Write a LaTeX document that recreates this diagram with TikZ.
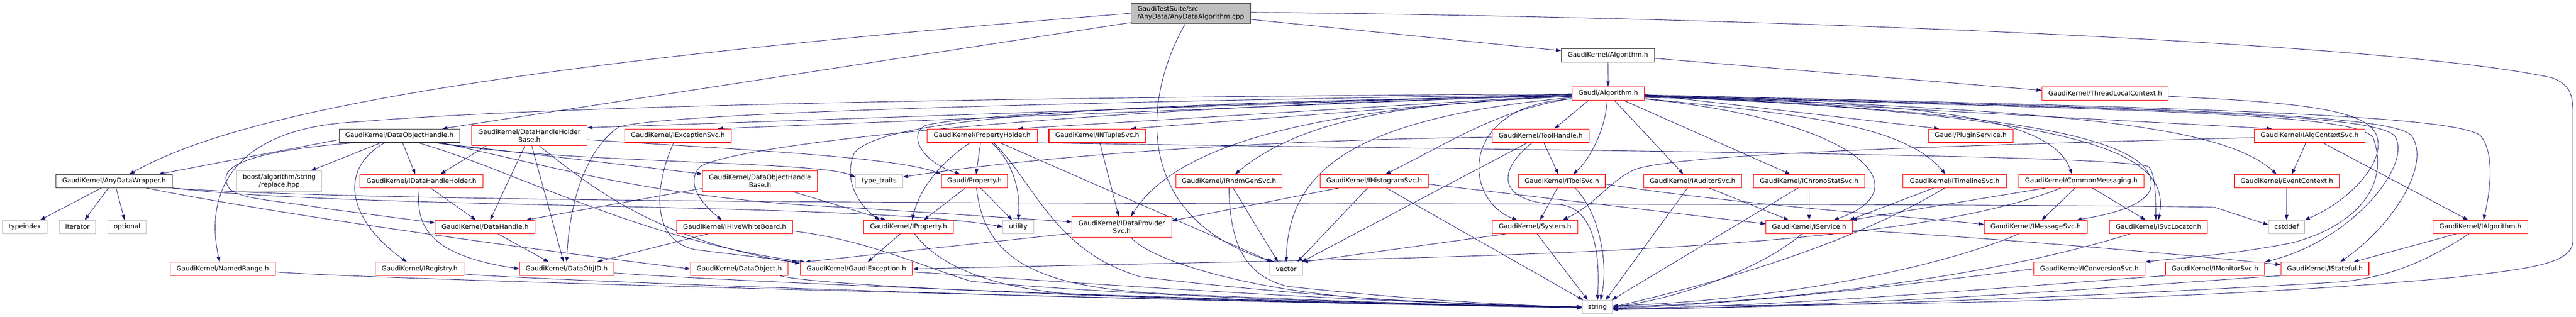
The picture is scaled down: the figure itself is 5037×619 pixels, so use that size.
\documentclass[tikz,border=0pt]{standalone}
\usepackage{fontspec}
\setmainfont{DejaVu Sans}
\usetikzlibrary{arrows.meta}
\definecolor{edgec}{HTML}{191970}
\definecolor{nred}{HTML}{FF0000}
\definecolor{ngray}{HTML}{BFBFBF}
\definecolor{nblack}{HTML}{333333}
\definecolor{rootfill}{HTML}{BFBFBF}
\pgfdeclarelayer{bg}
\pgfsetlayers{bg,main}
\begin{document}
\begin{tikzpicture}[x=1pt,y=-1pt,
  nb/.style={rectangle, line width=1.1pt, inner sep=0pt, minimum height=26pt, fill=white, font=\fontsize{12.8}{15}\selectfont, text=black},
  rn/.style={nb, draw=nred},
  gn/.style={nb, draw=ngray},
  bn/.style={nb, draw=nblack},
  two/.style={minimum height=40pt, align=center},
  e/.style={draw=edgec, line width=0.9pt, -{Triangle[length=10pt,width=7pt]}},
]
\useasboundingbox (0,0) rectangle (5037,619);

% row 0-2
\node[bn, fill=rootfill, minimum width=233pt, minimum height=40pt, align=left] (root) at (2328.5,26) {GaudiTestSuite/src\\/AnyData/AnyDataAlgorithm.cpp};
\node[bn, minimum width=182pt] (algh) at (3144,108) {GaudiKernel/Algorithm.h};
\node[rn, minimum width=141pt] (galg) at (3144.5,182.5) {Gaudi/Algorithm.h};
\node[rn, minimum width=247pt] (tlc) at (4116.5,182.5) {GaudiKernel/ThreadLocalContext.h};
% row 3
\node[bn, minimum width=236pt] (doh) at (781,265) {GaudiKernel/DataObjectHandle.h};
\node[rn, two, minimum width=226pt] (dhhb) at (1035,265) {GaudiKernel/DataHandleHolder\\Base.h};
\node[rn, minimum width=209pt] (iexc) at (1325.5,265) {GaudiKernel/IExceptionSvc.h};
\node[rn, minimum width=215pt] (ph) at (1920.5,265) {GaudiKernel/PropertyHolder.h};
\node[rn, minimum width=189pt] (intup) at (2145.5,265) {GaudiKernel/INTupleSvc.h};
\node[rn, minimum width=189pt] (toolh) at (3012.5,265) {GaudiKernel/ToolHandle.h};
\node[rn, minimum width=165pt] (plugin) at (3853.5,265) {Gaudi/PluginService.h};
\node[rn, minimum width=216pt] (ialgctx) at (4516,265) {GaudiKernel/IAlgContextSvc.h};
% row 4
\node[bn, minimum width=228pt] (adw) at (223,354) {GaudiKernel/AnyDataWrapper.h};
\node[gn, two, minimum width=166pt] (boost) at (546,354) {boost/algorithm/string\\/replace.hpp};
\node[rn, minimum width=240pt] (idhh) at (824,354) {GaudiKernel/IDataHandleHolder.h};
\node[rn, two, minimum width=224pt] (dohb) at (1486,354) {GaudiKernel/DataObjectHandle\\Base.h};
\node[gn, minimum width=92pt] (tt) at (1719,354) {type\_traits};
\node[rn, minimum width=129pt] (prop) at (1905.5,354) {Gaudi/Property.h};
\node[rn, minimum width=208pt] (irndm) at (2403,354) {GaudiKernel/IRndmGenSvc.h};
\node[rn, minimum width=212pt] (ihist) at (2687,354) {GaudiKernel/IHistogramSvc.h};
\node[rn, minimum width=170pt] (itool) at (3054,354) {GaudiKernel/IToolSvc.h};
\node[rn, minimum width=191pt] (iaud) at (3309.5,354) {GaudiKernel/IAuditorSvc.h};
\node[rn, minimum width=217pt] (ichrono) at (3537.5,354) {GaudiKernel/IChronoStatSvc.h};
\node[rn, minimum width=202pt] (itimeline) at (3822,354) {GaudiKernel/ITimelineSvc.h};
\node[rn, minimum width=245pt] (cmsg) at (4069.5,354) {GaudiKernel/CommonMessaging.h};
\node[rn, minimum width=205pt] (evctx) at (4471.5,354) {GaudiKernel/EventContext.h};
% row 5
\node[gn, minimum width=87pt] (typeindex) at (48.5,443.5) {typeindex};
\node[gn, minimum width=71pt] (iterator) at (151.5,443.5) {iterator};
\node[gn, minimum width=75pt] (optional) at (248.5,443.5) {optional};
\node[rn, minimum width=195pt] (dh) at (948.5,443.5) {GaudiKernel/DataHandle.h};
\node[rn, minimum width=227pt] (ihive) at (1436.5,443.5) {GaudiKernel/IHiveWhiteBoard.h};
\node[rn, minimum width=175pt] (iprop) at (1776.5,443.5) {GaudiKernel/IProperty.h};
\node[gn, minimum width=60pt] (utility) at (1991,443.5) {utility};
\node[rn, two, minimum width=195pt] (idp) at (2193.5,443.5) {GaudiKernel/IDataProvider\\Svc.h};
\node[rn, minimum width=167pt] (system) at (3001.5,443.5) {GaudiKernel/System.h};
\node[rn, minimum width=169pt] (iservice) at (3537.5,443.5) {GaudiKernel/IService.h};
\node[rn, minimum width=201pt] (imsg) at (3980.5,443.5) {GaudiKernel/IMessageSvc.h};
\node[rn, minimum width=191pt] (isvcloc) at (4220.5,443.5) {GaudiKernel/ISvcLocator.h};
\node[gn, minimum width=70pt] (cstddef) at (4471,443.5) {cstddef};
\node[rn, minimum width=186pt] (ialg) at (4850,443.5) {GaudiKernel/IAlgorithm.h};
% row 6
\node[rn, minimum width=205pt] (named) at (435.5,525.5) {GaudiKernel/NamedRange.h};
\node[rn, minimum width=173pt] (ireg) at (820.5,525.5) {GaudiKernel/IRegistry.h};
\node[rn, minimum width=184pt] (dataobjid) at (1108,525.5) {GaudiKernel/DataObjID.h};
\node[rn, minimum width=191pt] (dataobj) at (1445.5,525.5) {GaudiKernel/DataObject.h};
\node[rn, minimum width=219pt] (gexc) at (1674.5,525.5) {GaudiKernel/GaudiException.h};
\node[gn, minimum width=64pt] (vector) at (2515,525.5) {vector};
\node[rn, minimum width=217pt] (iconv) at (4085.5,525.5) {GaudiKernel/IConversionSvc.h};
\node[rn, minimum width=194pt] (imon) at (4331,525.5) {GaudiKernel/IMonitorSvc.h};
\node[rn, minimum width=172pt] (istate) at (4546,525.5) {GaudiKernel/IStateful.h};
% row 7
\node[gn, minimum width=59pt] (string) at (3123.5,600) {string};

\begin{pgfonlayer}{bg}
\fill[white] (0,0) rectangle (5037,619);
% root
\draw[e] (root.west) .. controls (900,130) and (450,230) .. ([xshift=30]adw.north);
\draw[e] ([yshift=-18]root.west) -- ([xshift=84]doh.north);
\draw[e] ([yshift=-12]root.east) -- ([yshift=9]algh.west);
\draw[e] ([yshift=2]root.east) .. controls (3600,36) and (4700,88) .. (4990,152) .. controls (5025,165) and (5031,185) .. (5031,220) -- (5031,470) .. controls (5031,515) and (4950,525) .. (4800,542) .. controls (4300,590) and (3600,598) .. ([yshift=2]string.east);
\draw[e] ([xshift=-11]root.south) .. controls (2230,200) and (2220,430) .. ([xshift=-24]vector.north);
% Algorithm.h
\draw[e] (algh) -- (galg);
\draw[e] ([yshift=-6]algh.east) -- ([yshift=6]tlc.west);
\draw[e] ([yshift=-6]tlc.east) .. controls (4500,200) and (4620,215) .. (4645,260) .. controls (4670,310) and (4600,390) .. (cstddef.north east);
% Gaudi/Algorithm.h, left side
\draw[e] ([yshift=-1]galg.west) -- ([yshift=-5]dhhb.north east);
\draw[e] ([yshift=-2]galg.west) -- ([xshift=78]iexc.north);
\draw[e] ([yshift=-3]galg.west) -- ([xshift=70]ph.north);
\draw[e] ([yshift=-3]galg.west) -- ([xshift=66]intup.north);
\draw[e] ([yshift=-1]galg.west) .. controls (2000,190) and (1100,205) .. (700,238) .. controls (450,250) and (400,380) .. ([xshift=-6]named.north);
\draw[e] ([yshift=-4]galg.west) .. controls (2400,200) and (1900,222) .. (1810,245) .. controls (1775,262) and (1800,315) .. ([xshift=-28]prop.north);
\draw[e] ([yshift=-5]galg.west) .. controls (2200,200) and (1720,228) .. (1670,300) .. controls (1645,360) and (1690,410) .. ([xshift=-56]iprop.north);
\draw[e] ([yshift=-5]galg.west) .. controls (2200,205) and (1460,275) .. (1370,325) .. controls (1335,360) and (1380,405) .. ([xshift=-25]ihive.north);
\draw[e] ([yshift=-2]galg.west) .. controls (2000,200) and (1300,222) .. (1210,248) .. controls (1135,300) and (1112,420) .. (dataobjid.north);
\draw[e] ([yshift=-6]galg.west) .. controls (2800,200) and (2560,220) .. ([xshift=12]irndm.north);
\draw[e] ([yshift=-6]galg.west) .. controls (2700,205) and (2320,250) .. ([xshift=18]idp.north);
\draw[e] ([yshift=-10]galg.west) .. controls (2930,215) and (2850,270) .. ([xshift=22]ihist.north);
\draw[e] ([yshift=-8]galg.west) .. controls (2650,230) and (2520,330) .. (vector.north);
\draw[e] ([yshift=-11]galg.west) .. controls (2850,205) and (2860,390) .. ([xshift=-35]system.north);
% Gaudi/Algorithm.h, bottom
\draw[e] ([xshift=-38]galg.south) -- ([xshift=27]toolh.north);
\draw[e] ([xshift=-2]galg.south) .. controls (3140,250) and (3110,310) .. ([xshift=22]itool.north);
\draw[e] ([xshift=12]galg.south) -- ([xshift=-18]iaud.north);
\draw[e] ([xshift=30]galg.south) -- ([xshift=-37]ichrono.north);
% Gaudi/Algorithm.h, right side
\draw[e] ([yshift=-11]galg.east) .. controls (3640,235) and (3760,370) .. ([xshift=48]iservice.north);
\draw[e] ([yshift=-2]galg.east) -- ([xshift=-62]plugin.north);
\draw[e] ([yshift=-10]galg.east) .. controls (3500,222) and (3720,240) .. ([xshift=-18]itimeline.north);
\draw[e] ([yshift=-8]galg.east) .. controls (3750,200) and (4010,225) .. ([xshift=-18]cmsg.north);
\draw[e] ([yshift=-6]galg.east) .. controls (3900,215) and (4230,265) .. (4205,370) .. controls (4190,405) and (4120,420) .. ([xshift=80]imsg.north);
\draw[e] ([yshift=-5]galg.east) .. controls (4100,225) and (4245,300) .. (isvcloc.north);
\draw[e] ([yshift=-3]galg.east) -- ([xshift=-74]ialgctx.north);
\draw[e] ([yshift=-4]galg.east) .. controls (4000,215) and (4340,240) .. ([xshift=-20]evctx.north);
\draw[e] ([yshift=-3]galg.east) .. controls (4300,210) and (4800,225) .. (4850,265) .. controls (4880,300) and (4868,380) .. ([xshift=6]ialg.north);
\draw[e] ([yshift=-4]galg.east) .. controls (4300,212) and (4680,225) .. (4715,265) .. controls (4755,320) and (4680,440) .. ([xshift=30]istate.north);
\draw[e] ([yshift=-5]galg.east) .. controls (4300,214) and (4640,225) .. (4682,265) .. controls (4720,320) and (4600,470) .. (imon.north east);
\draw[e] ([yshift=-6]galg.east) .. controls (4300,216) and (4600,225) .. (4640,268) .. controls (4680,380) and (4580,450) .. (4480,475) .. controls (4350,500) and (4250,505) .. (iconv.north east);
% DataObjectHandle.h
\draw[e] ([yshift=-8]doh.west) -- ([xshift=87]adw.north);
\draw[e] ([xshift=-35]doh.south) -- ([xshift=62]boost.north);
\draw[e] ([xshift=6]doh.south) -- ([xshift=-12]idhh.north);
\draw[e] ([xshift=-28]doh.south) .. controls (660,330) and (680,430) .. ([xshift=-25]ireg.north);
\draw[e] ([xshift=-80]doh.south) .. controls (520,292) and (430,318) .. (443,355) .. controls (445,390) and (520,388) .. (640,408) -- ([yshift=8]dh.west);
\draw[e] ([xshift=66]doh.south) -- ([yshift=14]dohb.west);
\draw[e] ([xshift=68]doh.south) .. controls (1100,320) and (1600,314) .. ([yshift=8]tt.west);
\draw[e] ([xshift=80]doh.south) .. controls (1100,330) and (1300,390) .. (1650,405) -- ([yshift=10]idp.west);
\draw[e] ([xshift=35]doh.south) .. controls (1000,330) and (1250,470) .. ([xshift=10]gexc.north west);
% DataHandleHolderBase.h
\draw[e] ([xshift=-85]dhhb.south) -- ([xshift=37]idhh.north);
\draw[e] ([xshift=-9]dhhb.south) -- ([xshift=10]dh.north);
\draw[e] ([xshift=5]dhhb.south) -- ([xshift=-6]dataobjid.north);
\draw[e] ([xshift=20]dhhb.south) .. controls (1150,360) and (1280,470) .. ([yshift=-3]gexc.north west);
\draw[e] ([yshift=-8]dhhb.east) .. controls (1400,290) and (1750,305) .. (prop.north west);
% IExceptionSvc.h
\draw[e] ([xshift=-8]iexc.south) .. controls (1280,360) and (1270,470) .. (1360,488) -- ([xshift=-6]gexc.north west);
% AnyDataWrapper.h
\draw[e] ([xshift=-25]adw.south) -- ([xshift=30]typeindex.north);
\draw[e] ([xshift=-11]adw.south) -- ([xshift=14]iterator.north);
\draw[e] ([xshift=4]adw.south) -- ([xshift=-5]optional.north);
\draw[e] ([xshift=63]adw.south) .. controls (500,410) and (900,470) .. (dataobj.west);
\draw[e] (adw.south east) .. controls (700,410) and (1700,395) .. (utility.west);
\draw[e] (adw.south east) .. controls (900,410) and (3500,392) .. (4330,405) -- ([yshift=4]cstddef.west);
% IDataHandleHolder.h, DataHandle.h
\draw[e] ([xshift=18]idhh.south) -- ([xshift=-18]dh.north);
\draw[e] ([xshift=-4]idhh.south) .. controls (810,450) and (850,500) .. (dataobjid.west);
\draw[e] ([xshift=25]dh.south) -- ([xshift=-35]dataobjid.north);
% DataObjectHandleBase.h
\draw[e] ([yshift=-14]dohb.west) -- ([xshift=80]dh.north);
\draw[e] ([xshift=64]dohb.south) -- ([xshift=-44]iprop.north);
% IHiveWhiteBoard.h, IProperty.h
\draw[e] ([xshift=-52]ihive.south) -- ([xshift=59]dataobjid.north);
\draw[e] ([yshift=-8]ihive.east) .. controls (1700,470) and (1800,520) .. (1900,550) .. controls (2300,585) and (2800,595) .. (string.west);
\draw[e] ([xshift=-16]iprop.south) -- ([xshift=22]gexc.north);
\draw[e] ([xshift=12]iprop.south) .. controls (1820,500) and (1900,560) .. (2100,575) .. controls (2500,590) and (2900,598) .. (string.west);
% row 6 to string
\draw[e] ([yshift=-6]named.east) .. controls (700,545) and (2000,580) .. ([yshift=-2]string.west);
\draw[e] ([yshift=-10]ireg.east) .. controls (1000,545) and (2000,585) .. ([yshift=-1]string.west);
\draw[e] ([yshift=-8]dataobjid.east) .. controls (1400,548) and (2200,585) .. (string.west);
\draw[e] ([xshift=80]dataobj.south) .. controls (1600,560) and (2300,590) .. (string.west);
\draw[e] ([yshift=-6]gexc.east) .. controls (2000,545) and (2600,590) .. (string.west);
% PropertyHolder.h
\draw[e] ([xshift=-3]ph.south) -- ([xshift=3]prop.north);
\draw[e] ([xshift=-23]ph.south) .. controls (1850,310) and (1800,360) .. ([xshift=7]iprop.north);
\draw[e] ([xshift=18]ph.south) .. controls (1985,320) and (1995,380) .. (utility.north);
\draw[e] ([xshift=34]ph.south) -- ([xshift=-28]vector.north);
\draw[e] ([xshift=22]ph.south) .. controls (2025,360) and (2060,490) .. (2230,541) .. controls (2600,585) and (2900,598) .. (string.west);
\draw[e] ([xshift=-30]ph.south east) .. controls (3000,295) and (4100,300) .. (4200,325) .. controls (4215,335) and (4215,390) .. ([xshift=-5]isvcloc.north);
% Gaudi/Property.h
\draw[e] ([xshift=12]prop.south) -- ([xshift=-12]utility.north);
\draw[e] ([xshift=-18]prop.south) -- ([xshift=30]iprop.north);
\draw[e] ([xshift=4]prop.south) .. controls (1925,520) and (2050,565) .. (2300,575) .. controls (2700,592) and (2900,598) .. (string.west);
% INTupleSvc.h, IDataProviderSvc.h
\draw[e] ([xshift=5]intup.south) -- ([xshift=-6]idp.north);
\draw[e] ([xshift=18]idp.south) .. controls (2250,510) and (2450,570) .. (2700,585) .. controls (2900,595) and (3000,598) .. (string.west);
\draw[e] ([yshift=8]idp.south west) -- ([xshift=10]gexc.north west);
% IRndmGenSvc.h, IHistogramSvc.h
\draw[e] ([xshift=8]irndm.south) -- ([xshift=-16]vector.north);
\draw[e] (irndm.south) .. controls (2405,470) and (2430,540) .. (2520,560) .. controls (2800,590) and (3000,598) .. (string.west);
\draw[e] ([xshift=-13]ihist.south) -- ([xshift=22]vector.north);
\draw[e] ([xshift=24]ihist.south) -- ([xshift=-28]string.north);
\draw[e] ([xshift=-70]ihist.south) -- ([yshift=12]idp.east);
\draw[e] ([yshift=-6]ihist.east) -- ([yshift=6]iservice.west);
% ToolHandle.h, IToolSvc.h, System.h
\draw[e] ([xshift=6]toolh.south) -- ([xshift=-7]itool.north);
\draw[e] ([xshift=-25]toolh.south) -- ([xshift=30]vector.north);
\draw[e] ([xshift=-16]toolh.south) .. controls (2930,330) and (2920,395) .. (3050,400) .. controls (3110,405) and (3130,480) .. (string.north);
\draw[e] ([yshift=-3]toolh.west) .. controls (2400,275) and (2000,310) .. ([yshift=8]tt.east);
\draw[e] ([xshift=-9]itool.south) -- ([xshift=10]system.north);
\draw[e] ([xshift=26]itool.south) .. controls (3130,420) and (3145,520) .. ([xshift=6]string.north);
\draw[e] ([yshift=-6]itool.east) .. controls (3400,400) and (3700,420) .. ([yshift=5]imsg.west);
\draw[e] ([xshift=4]system.south) -- ([xshift=-19]string.north);
\draw[e] ([xshift=-56]system.south) -- (vector.north east);
% IAuditorSvc.h, IChronoStatSvc.h, IService.h
\draw[e] ([xshift=-10]iaud.south) -- ([xshift=16]string.north);
\draw[e] ([xshift=33]iaud.south) -- ([xshift=-40]iservice.north);
\draw[e] (ichrono.south) -- (iservice.north);
\draw[e] ([xshift=-22]ichrono.south) -- ([xshift=-2]string.north east);
\draw[e] ([xshift=-14]iservice.south) .. controls (3450,520) and (3300,580) .. (string.east);
\draw[e] ([yshift=-6]iservice.east) .. controls (3900,465) and (4300,500) .. ([yshift=8]istate.west);
% ITimelineSvc.h, CommonMessaging.h
\draw[e] ([xshift=-41]itimeline.south) -- ([xshift=-6]iservice.north east);
\draw[e] ([xshift=-20]itimeline.south) .. controls (3700,430) and (3500,520) .. (string.east);
\draw[e] ([xshift=-70]cmsg.south) -- ([xshift=-2]iservice.north east);
\draw[e] ([xshift=-12]cmsg.south) -- ([xshift=12]imsg.north);
\draw[e] ([xshift=22]cmsg.south) -- ([xshift=-25]isvcloc.north);
\draw[e] ([xshift=-40]cmsg.south) .. controls (3800,460) and (3300,492) .. (2600,508) -- (gexc.east);
% services to string
\draw[e] ([xshift=-33]imsg.south) .. controls (3800,520) and (3500,585) .. ([yshift=2]string.east);
\draw[e] ([xshift=-55]isvcloc.south) .. controls (3900,540) and (3500,590) .. (string.east);
\draw[e] (iconv.west) .. controls (3700,560) and (3400,595) .. ([yshift=-2]string.east);
\draw[e] (imon.south west) .. controls (4000,555) and (3500,600) .. ([yshift=-3]string.east);
\draw[e] (istate.south west) .. controls (4300,548) and (3700,600) .. ([yshift=-4]string.east);
% IAlgContextSvc.h, EventContext.h, IAlgorithm.h
\draw[e] ([xshift=-7]ialgctx.south) -- ([xshift=10]evctx.north);
\draw[e] ([xshift=25]ialgctx.south) -- ([xshift=-24]ialg.north);
\draw[e] ([yshift=-4]ialgctx.west) .. controls (3800,285) and (3300,300) .. (3200,330) .. controls (3150,350) and (3120,400) .. ([xshift=54]system.north);
\draw[e] (evctx.south) -- (cstddef.north);
\draw[e] ([xshift=-47]ialg.south) -- ([xshift=56]istate.north);
\draw[e] ([xshift=-22]ialg.south) .. controls (4760,500) and (4680,545) .. (4560,552) .. controls (4000,585) and (3500,600) .. ([yshift=-5]string.east);
\end{pgfonlayer}
\end{tikzpicture}
\end{document}
